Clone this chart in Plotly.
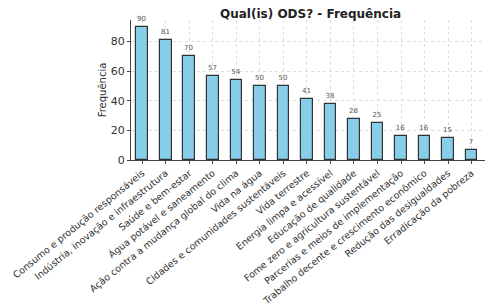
import plotly.graph_objects as go

categories = [
    "Consumo e produção responsáveis",
    "Indústria, inovação e infraestrutura",
    "Saúde e bem-estar",
    "Água potável e saneamento",
    "Ação contra a mudança global do clima",
    "Vida na água",
    "Cidades e comunidades sustentáveis",
    "Vida terrestre",
    "Energia limpa e acessível",
    "Educação de qualidade",
    "Fome zero e agricultura sustentável",
    "Parcerias e meios de implementação",
    "Trabalho decente e crescimento econômico",
    "Redução das desigualdades",
    "Erradicação da pobreza",
]
values = [90, 81, 70, 57, 54, 50, 50, 41, 38, 28, 25, 16, 16, 15, 7]
y_ticks = [0, 20, 40, 60, 80]

x = list(range(len(categories)))

fig = go.Figure()
fig.add_trace(go.Bar(
    x=x, y=values, width=0.5,
    marker=dict(color="#87CEEB", line=dict(color="#333333", width=1.2)),
    text=[str(v) for v in values], textposition="outside",
    textfont=dict(size=7, color="#555555", family="DejaVu Sans"),
    cliponaxis=False,
))

fig.update_layout(
    width=493, height=308,
    margin=dict(l=131, r=8, t=20, b=148),
    paper_bgcolor="white", plot_bgcolor="white",
    showlegend=False,
    bargap=0,
    uniformtext=dict(minsize=6),
    title=dict(text="<b>Qual(is) ODS? - Frequência</b>", x=0.63, xanchor="center",
               y=0.955, yanchor="middle",
               font=dict(size=12, color="#222222", family="DejaVu Sans")),
    font=dict(family="DejaVu Sans", color="#333333"),
)
fig.update_xaxes(
    tickmode="array", tickvals=x, ticktext=categories, tickangle=-39,
    tickfont=dict(size=9.5, color="#333333"),
    range=[-0.48, 14.57], automargin=False,
    showgrid=True, gridcolor="#dddddd", griddash="dot", gridwidth=1,
    showline=True, linecolor="#444444", linewidth=1,
    ticks="outside", ticklen=3, tickcolor="#444444",
    zeroline=False,
)
fig.update_yaxes(
    tickmode="array", tickvals=y_ticks,
    tickfont=dict(size=11, color="#333333"),
    range=[0, 94.5], automargin=False,
    title=dict(text="Frequência", font=dict(size=10, color="#333333"), standoff=2),
    showgrid=True, gridcolor="#dddddd", griddash="dot", gridwidth=1,
    showline=True, linecolor="#444444", linewidth=1,
    ticks="outside", ticklen=3, tickcolor="#444444",
    zeroline=False,
)

fig.write_html("out.html", config={"displayModeBar": False},
               post_script="document.body.style.margin='0px';")
